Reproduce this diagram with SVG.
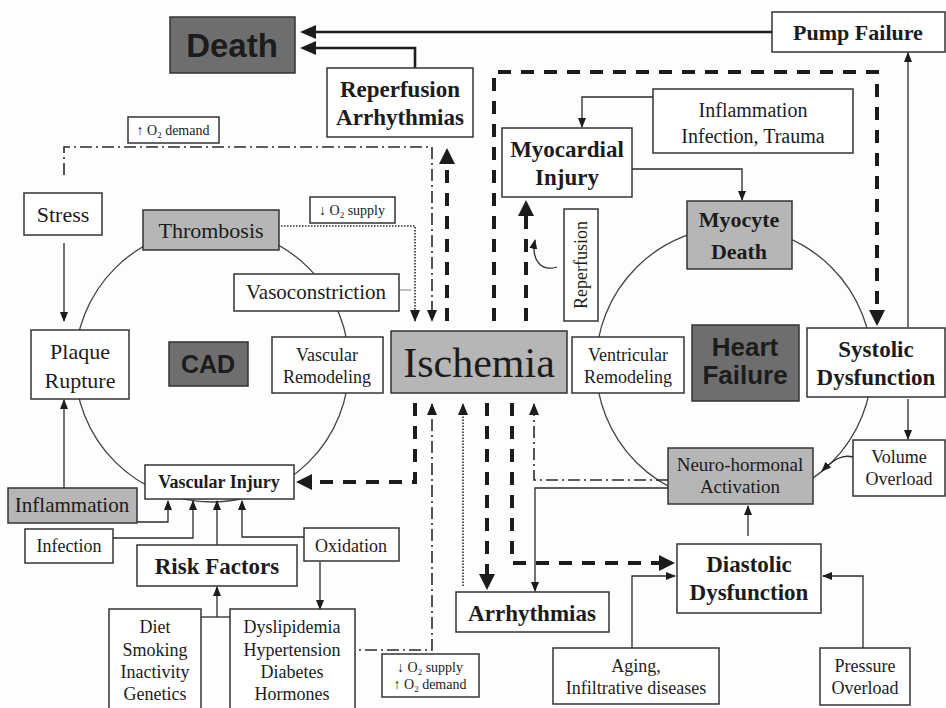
<svg xmlns="http://www.w3.org/2000/svg" width="946" height="708" viewBox="0 0 946 708">
  <style>
    .box { fill: #ffffff; stroke: #333333; stroke-width: 1.5; }
    .lg { fill: #b6b6b6; stroke: #333333; stroke-width: 1.5; }
    .dk { fill: #6e6e6e; stroke: #333333; stroke-width: 1.5; }
    .ring { fill: none; stroke: #444444; stroke-width: 1.3; }
    text { fill: #1c1c1c; text-anchor: middle; font-family: "Liberation Serif", "Times New Roman", serif; }
    .b { font-weight: bold; }
    .sans { font-family: "Liberation Sans", Arial, sans-serif; font-weight: bold; }
    .thin { fill: none; stroke: #2a2a2a; stroke-width: 1.3; }
    .heavy { fill: none; stroke: #1c1c1c; stroke-width: 2.6; }
    .tdash { fill: none; stroke: #1c1c1c; stroke-width: 4; stroke-dasharray: 13 10; }
    .dot { fill: none; stroke: #2a2a2a; stroke-width: 1.6; stroke-dasharray: 1.5 1.5; }
    .dd { fill: none; stroke: #2a2a2a; stroke-width: 1.6; stroke-dasharray: 12 4 2 4; }
  </style>
  <defs>
    <marker id="ahT" markerUnits="userSpaceOnUse" viewBox="0 0 16 16" markerWidth="16" markerHeight="16" refX="4" refY="8" orient="auto">
      <path d="M0,0 L16,8 L0,16 z" fill="#1c1c1c"/>
    </marker>
    <marker id="ahH" markerUnits="userSpaceOnUse" viewBox="0 0 16 14" markerWidth="16" markerHeight="14" refX="6" refY="7" orient="auto">
      <path d="M0,0 L16,7 L0,14 z" fill="#1c1c1c"/>
    </marker>
    <marker id="ahS" markerUnits="userSpaceOnUse" viewBox="0 0 10 8" markerWidth="10" markerHeight="8" refX="9" refY="4" orient="auto">
      <path d="M0,0 L10,4 L0,8 z" fill="#1c1c1c"/>
    </marker>
    <marker id="ahM" markerUnits="userSpaceOnUse" viewBox="0 0 12 10" markerWidth="12" markerHeight="10" refX="11" refY="5" orient="auto">
      <path d="M0,0 L12,5 L0,10 z" fill="#1c1c1c"/>
    </marker>
  </defs>

  <rect width="946" height="708" fill="#fdfdfd"/>

  <!-- the two cycles -->
  <g id="cycles">
    <circle class="ring" cx="212" cy="365" r="137"/>
    <circle class="ring" cx="734" cy="365" r="138"/>
  </g>

  <!-- connectors -->
  <g id="connectors">
    <!-- heavy arrows into Death -->
    <path class="heavy" d="M772,32 H310" marker-end="url(#ahH)"/>
    <path class="heavy" d="M415,68 V48 H310" marker-end="url(#ahH)"/>

    <!-- heavy dashed paths out of Ischemia -->
    <path class="tdash" d="M447,321 V160" marker-end="url(#ahT)"/>
    <path class="tdash" d="M494,321 V72 H877 V314" marker-end="url(#ahT)"/>
    <path class="tdash" d="M526,321 V212" marker-end="url(#ahT)"/>
    <path class="tdash" d="M415,403 V482 H308" marker-end="url(#ahT)"/>
    <path class="tdash" d="M487,403 V578" marker-end="url(#ahT)"/>
    <path class="tdash" d="M512,403 V563 H663" marker-end="url(#ahT)"/>

    <!-- oxygen supply / demand links -->
    <path class="dot" d="M281,226 H415 V321" marker-end="url(#ahM)"/>
    <path class="dot" d="M463,586 V404" marker-end="url(#ahM)"/>
    <path class="dd" d="M64,175 V147 H432 V321" marker-end="url(#ahM)"/>
    <path class="dd" d="M343,650 H432 V404" marker-end="url(#ahM)"/>
    <path class="dd" d="M668,480 H534 V404" marker-end="url(#ahM)"/>
    <path d="M399,290 H411" fill="none" stroke="#9a9a9a" stroke-width="1.2"/>

    <!-- thin solid arrows -->
    <path class="thin" d="M668,488 H535 V591" marker-end="url(#ahS)"/>
    <path class="thin" d="M64,243 V321" marker-end="url(#ahS)"/>
    <path class="thin" d="M64,488 V400" marker-end="url(#ahS)"/>
    <path class="thin" d="M137,522 H168 V501" marker-end="url(#ahS)"/>
    <path class="thin" d="M113,538 H193 V501" marker-end="url(#ahS)"/>
    <path class="thin" d="M217,545 V501" marker-end="url(#ahS)"/>
    <path class="thin" d="M304,537 H242 V501" marker-end="url(#ahS)"/>
    <path class="thin" d="M201,617 H230"/>
    <path class="thin" d="M217,617 V587" marker-end="url(#ahS)"/>
    <path class="thin" d="M320,562 V609" marker-end="url(#ahS)"/>
    <path class="thin" d="M653,97 H582 V127" marker-end="url(#ahS)"/>
    <path class="thin" d="M632,169 H742 V200" marker-end="url(#ahS)"/>
    <path class="thin" d="M908,327 V53" marker-end="url(#ahS)"/>
    <path class="thin" d="M908,399 V439" marker-end="url(#ahS)"/>
    <path class="thin" d="M748,536 V506" marker-end="url(#ahS)"/>
    <path class="thin" d="M632,648 V576 H675" marker-end="url(#ahS)"/>
    <path class="thin" d="M863,648 V576 H823" marker-end="url(#ahS)"/>
    <path class="thin" d="M557,267 C541,272 531,260 535,240" marker-end="url(#ahS)"/>
    <path class="thin" d="M853,457 C842,454 833,460 822,471" marker-end="url(#ahS)"/>
  </g>

  <!-- nodes -->
  <g id="death">
    <rect class="dk" x="170" y="17" width="125" height="56"/>
    <text class="sans" x="232" y="57" font-size="33">Death</text>
  </g>
  <g id="reperfusion-arrhythmias">
    <rect class="box" x="327" y="68" width="146" height="69"/>
    <text class="b" x="400" y="97" font-size="23">Reperfusion</text>
    <text class="b" x="400" y="125" font-size="23">Arrhythmias</text>
  </g>
  <g id="pump-failure">
    <rect class="box" x="772" y="12" width="173" height="40"/>
    <text class="b" x="858" y="40" font-size="22">Pump Failure</text>
  </g>
  <g id="inflammation-infection-trauma">
    <rect class="box" x="653" y="89" width="200" height="64"/>
    <text x="753" y="117" font-size="20">Inflammation</text>
    <text x="753" y="143" font-size="20">Infection, Trauma</text>
  </g>
  <g id="myocardial-injury">
    <rect class="box" x="502" y="128" width="130" height="69"/>
    <text class="b" x="567" y="157" font-size="23">Myocardial</text>
    <text class="b" x="567" y="185" font-size="23">Injury</text>
  </g>
  <g id="myocyte-death">
    <rect class="lg" x="687" y="201" width="105" height="68"/>
    <text class="b" x="739" y="227" font-size="22">Myocyte</text>
    <text class="b" x="739" y="259" font-size="22">Death</text>
  </g>
  <g id="reperfusion">
    <rect class="box" x="564" y="209" width="34" height="112"/>
    <text x="0" y="0" font-size="18" transform="translate(587,265) rotate(-90)">Reperfusion</text>
  </g>
  <g id="o2-demand">
    <rect class="box" x="128" y="117" width="91" height="26"/>
    <text x="173" y="135" font-size="14">↑ O<tspan font-size="9" dy="3">2</tspan><tspan dy="-3"> demand</tspan></text>
  </g>
  <g id="o2-supply">
    <rect class="box" x="310" y="197" width="85" height="26"/>
    <text x="352" y="215" font-size="14">↓ O<tspan font-size="9" dy="3">2</tspan><tspan dy="-3"> supply</tspan></text>
  </g>
  <g id="stress">
    <rect class="box" x="24" y="193" width="78" height="42"/>
    <text x="63" y="222" font-size="22">Stress</text>
  </g>
  <g id="thrombosis">
    <rect class="lg" x="143" y="210" width="136" height="40"/>
    <text x="211" y="238" font-size="22">Thrombosis</text>
  </g>
  <g id="vasoconstriction">
    <rect class="box" x="234" y="274" width="165" height="37"/>
    <text x="316" y="299" font-size="21">Vasoconstriction</text>
  </g>
  <g id="plaque-rupture">
    <rect class="box" x="31" y="330" width="98" height="69"/>
    <text x="80" y="359" font-size="22">Plaque</text>
    <text x="80" y="388" font-size="22">Rupture</text>
  </g>
  <g id="cad">
    <rect class="dk" x="169" y="342" width="79" height="44"/>
    <text class="sans" x="208" y="373" font-size="25">CAD</text>
  </g>
  <g id="vascular-remodeling">
    <rect class="box" x="272" y="337" width="111" height="56"/>
    <text x="327" y="361" font-size="18">Vascular</text>
    <text x="327" y="383" font-size="18">Remodeling</text>
  </g>
  <g id="ischemia">
    <rect class="lg" x="391" y="331" width="176" height="62" fill="#bcbcbc"/>
    <text x="479" y="377" font-size="42">Ischemia</text>
  </g>
  <g id="ventricular-remodeling">
    <rect class="box" x="572" y="337" width="112" height="56"/>
    <text x="628" y="361" font-size="18">Ventricular</text>
    <text x="628" y="383" font-size="18">Remodeling</text>
  </g>
  <g id="heart-failure">
    <rect class="dk" x="692" y="325" width="107" height="76"/>
    <text class="sans" x="745" y="356" font-size="26">Heart</text>
    <text class="sans" x="745" y="384" font-size="26">Failure</text>
  </g>
  <g id="systolic-dysfunction">
    <rect class="box" x="807" y="328" width="138" height="69"/>
    <text class="b" x="876" y="357" font-size="23">Systolic</text>
    <text class="b" x="876" y="385" font-size="23">Dysfunction</text>
  </g>
  <g id="volume-overload">
    <rect class="box" x="853" y="440" width="92" height="56"/>
    <text x="899" y="463" font-size="18">Volume</text>
    <text x="899" y="485" font-size="18">Overload</text>
  </g>
  <g id="neurohormonal-activation">
    <rect class="lg" x="668" y="448" width="145" height="56"/>
    <text x="740" y="471" font-size="19">Neuro-hormonal</text>
    <text x="740" y="493" font-size="19">Activation</text>
  </g>
  <g id="vascular-injury">
    <rect class="box" x="145" y="465" width="149" height="34"/>
    <text class="b" x="219" y="488" font-size="18">Vascular Injury</text>
  </g>
  <g id="inflammation">
    <rect class="lg" x="8" y="488" width="129" height="35"/>
    <text x="72" y="512" font-size="21">Inflammation</text>
  </g>
  <g id="infection">
    <rect class="box" x="25" y="529" width="88" height="34"/>
    <text x="69" y="552" font-size="18">Infection</text>
  </g>
  <g id="risk-factors">
    <rect class="box" x="137" y="545" width="160" height="41"/>
    <text class="b" x="217" y="574" font-size="23">Risk Factors</text>
  </g>
  <g id="oxidation">
    <rect class="box" x="304" y="528" width="95" height="33"/>
    <text x="351" y="552" font-size="18">Oxidation</text>
  </g>
  <g id="lifestyle">
    <rect class="box" x="109" y="609" width="92" height="104"/>
    <text x="155" y="633" font-size="18">Diet</text>
    <text x="155" y="656" font-size="18">Smoking</text>
    <text x="155" y="678" font-size="18">Inactivity</text>
    <text x="155" y="700" font-size="18">Genetics</text>
  </g>
  <g id="conditions">
    <rect class="box" x="230" y="609" width="125" height="104"/>
    <text x="292" y="633" font-size="18">Dyslipidemia</text>
    <text x="292" y="656" font-size="18">Hypertension</text>
    <text x="292" y="678" font-size="18">Diabetes</text>
    <text x="292" y="700" font-size="18">Hormones</text>
  </g>
  <g id="o2-supply-demand">
    <rect class="box" x="382" y="654" width="97" height="43"/>
    <text x="430" y="672" font-size="14">↓ O<tspan font-size="9" dy="3">2</tspan><tspan dy="-3"> supply</tspan></text>
    <text x="430" y="689" font-size="14">↑ O<tspan font-size="9" dy="3">2</tspan><tspan dy="-3"> demand</tspan></text>
  </g>
  <g id="arrhythmias">
    <rect class="box" x="456" y="592" width="153" height="40"/>
    <text class="b" x="532" y="621" font-size="23">Arrhythmias</text>
  </g>
  <g id="diastolic-dysfunction">
    <rect class="box" x="677" y="544" width="144" height="69"/>
    <text class="b" x="749" y="572" font-size="23">Diastolic</text>
    <text class="b" x="749" y="600" font-size="23">Dysfunction</text>
  </g>
  <g id="aging">
    <rect class="box" x="553" y="648" width="166" height="56"/>
    <text x="636" y="672" font-size="18">Aging,</text>
    <text x="636" y="694" font-size="18">Infiltrative diseases</text>
  </g>
  <g id="pressure-overload">
    <rect class="box" x="820" y="648" width="90" height="57"/>
    <text x="865" y="672" font-size="18">Pressure</text>
    <text x="865" y="694" font-size="18">Overload</text>
  </g>
</svg>
